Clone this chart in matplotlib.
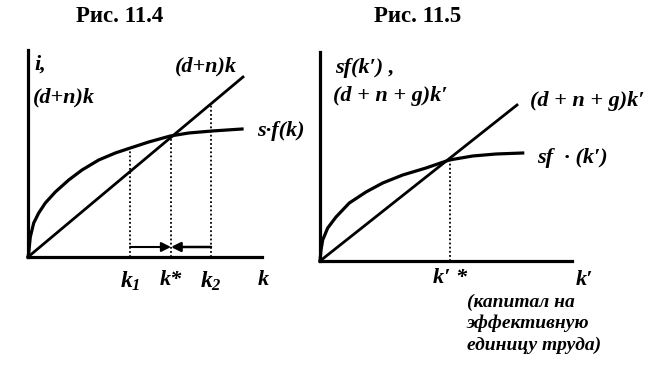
import matplotlib
matplotlib.use("Agg")
import matplotlib.pyplot as plt

plt.rcParams['font.family'] = ['Liberation Serif', 'DejaVu Serif']
plt.rcParams['mathtext.fontset'] = 'custom'
plt.rcParams['mathtext.it'] = 'Liberation Serif:bold:italic'
plt.rcParams['mathtext.rm'] = 'Liberation Serif:bold:italic'

# ---- Рис. 11.4 (units: offsets from the origin of the diagram) ----
k_line = [0, 215]
dnk_line = [0, 180]
k_curve = [0, 0.7, 2.3, 5.7, 10.7, 17.3, 27.3, 40.7, 54, 70.7, 87.3, 102.3, 120.7, 142.3, 160.7, 184, 214]
sfk_curve = [0, 4, 20, 34, 44, 54, 65, 77, 87, 97, 104, 109, 115, 121, 124, 126, 128]
k1, k_star, k2 = 102, 143, 183

# ---- Рис. 11.5 ----
ke_line = [0, 197]
dngk_line = [0, 156]
ke_curve = [0, 1, 2.7, 7.7, 16, 29.3, 46, 62.7, 82.7, 106, 129.3, 152.7, 176, 202.7]
sfke_curve = [0, 11, 21, 33, 44, 58, 69, 78, 86, 93, 101, 105, 107, 108]
ke_star = 130

W, H = 663, 369
fig = plt.figure(figsize=(W / 100, H / 100), dpi=100)
font = dict(fontweight='bold', fontstyle='italic', fontsize=16)


def make_axes(ox, oy, w, h):
    ax = fig.add_axes([ox / W, (H - oy) / H, w / W, h / H])
    ax.set_xlim(0, w)
    ax.set_ylim(0, h)
    for s in ['top', 'right']:
        ax.spines[s].set_visible(False)
    for s in ['left', 'bottom']:
        ax.spines[s].set_linewidth(2.3)
    ax.set_xticks([])
    ax.set_yticks([])
    ax.patch.set_alpha(0)
    return ax


dots = dict(color='black', linestyle=(0, (1, 1.3)), linewidth=1.3)

# left diagram
ax1 = make_axes(28, 257, 234, 207)
ax1.plot(k_line, dnk_line, color='black', linewidth=2, clip_on=False)
ax1.plot(k_curve, sfk_curve, color='black', linewidth=2.3, clip_on=False)
ax1.plot([k1, k1], [0, 109], **dots)
ax1.plot([k_star, k_star], [0, 121], **dots)
ax1.plot([k2, k2], [0, 153], **dots)
ax1.annotate('', xy=(k_star, 10), xytext=(k1, 10),
             arrowprops=dict(arrowstyle='-|>', color='black', lw=1.5, mutation_scale=14,
                             shrinkA=0, shrinkB=0))
ax1.annotate('', xy=(k_star, 10), xytext=(k2, 10),
             arrowprops=dict(arrowstyle='-|>', color='black', lw=1.8, mutation_scale=14,
                             shrinkA=0, shrinkB=0))
ax1.text(6, 192, 'i,', ha='left', va='center', **font)
ax1.text(5, 160, '(d+n)k', ha='left', va='center', **font)
ax1.text(178, 191, '(d+n)k', ha='center', va='center', **font)
ax1.text(229, 126, 's·f(k)', ha='left', va='center', **font)
ax1.text(k1, -24, '$k_1$', ha='center', va='center', fontsize=17)
ax1.text(k_star, -23, 'k*', ha='center', va='center', **font)
ax1.text(k2, -24, '$k_2$', ha='center', va='center', fontsize=17)
ax1.text(235, -23, 'k', ha='center', va='center', **font)

# right diagram
ax2 = make_axes(320, 261, 252, 209)
ax2.plot(ke_line, dngk_line, color='black', linewidth=2, clip_on=False)
ax2.plot(ke_curve, sfke_curve, color='black', linewidth=2.3, clip_on=False)
ax2.plot([ke_star, ke_star], [0, 101], **dots)
ax2.text(15, 193, 'sf(k′) ,', ha='left', va='center', **font)
ax2.text(13, 165, '(d + n + g)k′', ha='left', va='center', **font)
ax2.text(210, 160, '(d + n + g)k′', ha='left', va='center', **font)
ax2.text(217, 103, 'sf  · (k′)', ha='left', va='center', **font)
ax2.text(ke_star, -17, 'k′ *', ha='center', va='center', **font)
ax2.text(264, -19, 'k′', ha='center', va='center', **font)
ax2.text(147, -41, '(капитал на', ha='left', va='center', fontweight='bold', fontstyle='italic', fontsize=14)
ax2.text(147, -62, 'эффективную', ha='left', va='center', fontweight='bold', fontstyle='italic', fontsize=14)
ax2.text(147, -84, 'единицу труда)', ha='left', va='center', fontweight='bold', fontstyle='italic', fontsize=14)

fig.text(120 / W, 1 - 17 / H, 'Рис. 11.4', ha='center', va='center', fontsize=16.5, fontweight='bold')
fig.text(418 / W, 1 - 17 / H, 'Рис. 11.5', ha='center', va='center', fontsize=16.5, fontweight='bold')

fig.savefig('out.png', dpi=100)
